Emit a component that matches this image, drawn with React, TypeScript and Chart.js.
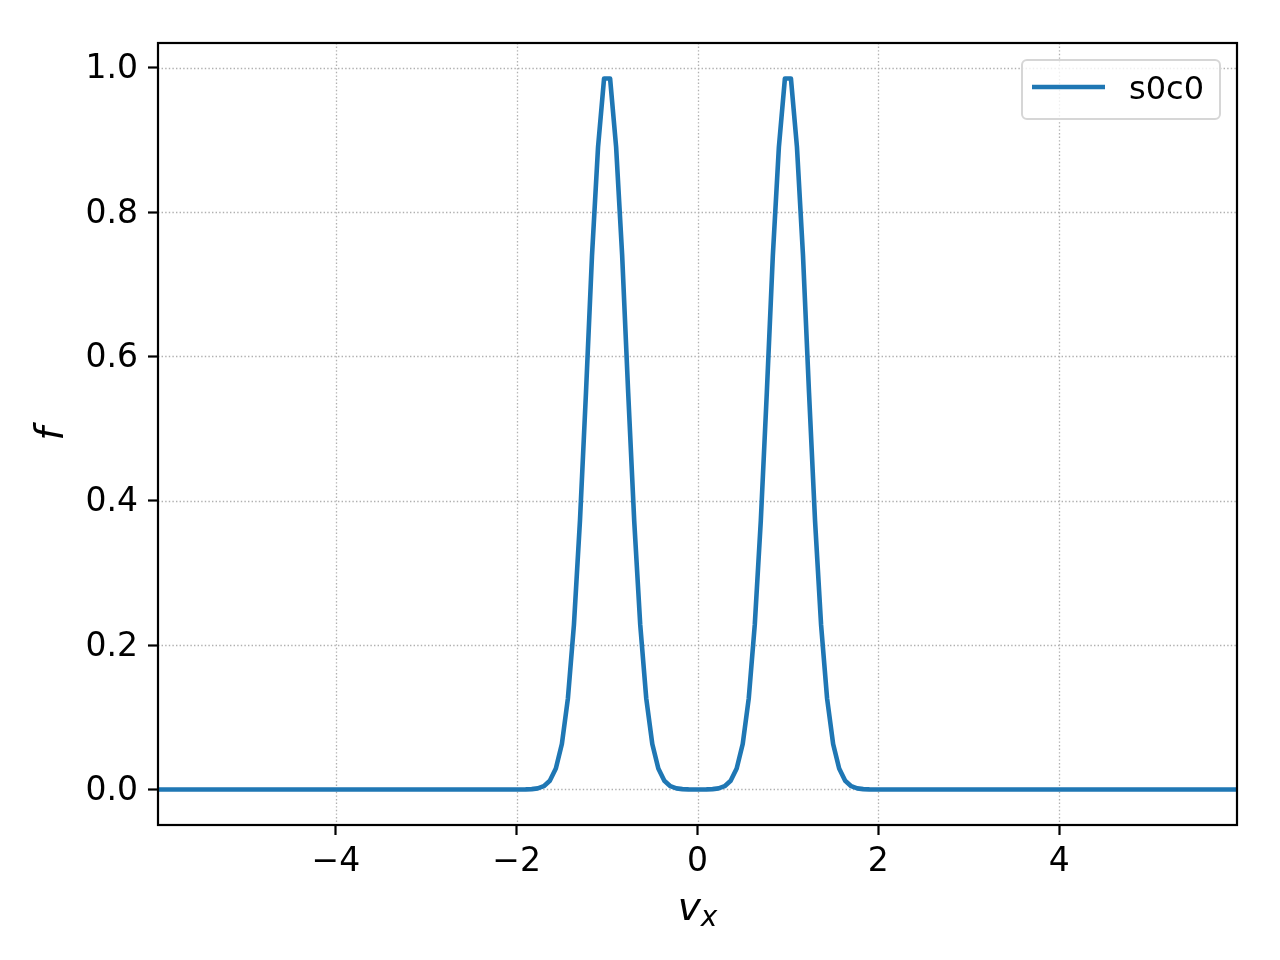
import React, { useEffect, useRef } from "react";
import { Chart, registerables } from "chart.js";

Chart.register(...registerables);

const seriesLabel = "s0c0";
const vx = [
  -5.9667, -1.9667, -1.9, -1.8333, -1.7667, -1.7, -1.6333, -1.5667, -1.5, -1.4333, -1.3667, -1.3,
  -1.2333, -1.1667, -1.1, -1.0333, -0.9667, -0.9, -0.8333, -0.7667, -0.7, -0.6333, -0.5667, -0.5,
  -0.4333, -0.3667, -0.3, -0.2333, -0.1667, -0.1, -0.0333,
  0.0333, 0.1, 0.1667, 0.2333, 0.3, 0.3667, 0.4333, 0.5, 0.5667, 0.6333, 0.7, 0.7667, 0.8333, 0.9,
  0.9667, 1.0333, 1.1, 1.1667, 1.2333, 1.3, 1.3667, 1.4333, 1.5, 1.5667, 1.6333, 1.7, 1.7667, 1.8333,
  1.9, 1.9667, 5.9667,
];
const f = [
  0, 0, 0.0001, 0.0005, 0.0015, 0.0045, 0.012, 0.029, 0.063, 0.126, 0.228, 0.372,
  0.55, 0.74, 0.89, 0.985, 0.985, 0.89, 0.74, 0.55, 0.372, 0.228, 0.126, 0.063,
  0.029, 0.012, 0.0045, 0.0015, 0.0005, 0.0001, 0,
  0, 0.0001, 0.0005, 0.0015, 0.0045, 0.012, 0.029, 0.063, 0.126, 0.228, 0.372, 0.55, 0.74, 0.89,
  0.985, 0.985, 0.89, 0.74, 0.55, 0.372, 0.228, 0.126, 0.063, 0.029, 0.012, 0.0045, 0.0015, 0.0005,
  0.0001, 0, 0,
];
const xTicks = [-4, -2, 0, 2, 4];
const yTicks = [0, 0.2, 0.4, 0.6, 0.8, 1.0];
const xLimits = [-5.9667, 5.9667];
const yLimits = [-0.04925, 1.03425];

const FONT = "'DejaVu Sans', sans-serif";
const LINE_COLOR = "#1f77b4";

const decorPlugin = {
  id: "decor",
  beforeDatasetsDraw(chart: any) {
    const { ctx, chartArea: a, scales } = chart;
    ctx.save();
    ctx.strokeStyle = "#b0b0b0";
    ctx.lineWidth = 1.3;
    ctx.setLineDash([1.4, 2.2]);
    for (const t of xTicks) {
      const px = Math.round(scales.x.getPixelForValue(t)) + 0.5;
      ctx.beginPath();
      ctx.moveTo(px, a.top);
      ctx.lineTo(px, a.bottom);
      ctx.stroke();
    }
    for (const t of yTicks) {
      const py = Math.round(scales.y.getPixelForValue(t)) + 0.5;
      ctx.beginPath();
      ctx.moveTo(a.left, py);
      ctx.lineTo(a.right, py);
      ctx.stroke();
    }
    ctx.restore();
  },
  afterDraw(chart: any) {
    const { ctx, chartArea: a } = chart;
    ctx.save();
    // spines
    ctx.strokeStyle = "#000";
    ctx.lineWidth = 2.2;
    ctx.setLineDash([]);
    ctx.strokeRect(a.left, a.top, a.right - a.left, a.bottom - a.top);

    // legend
    const bx = 1022, by = 60, bw = 198, bh = 59, r = 5;
    ctx.beginPath();
    ctx.moveTo(bx + r, by);
    ctx.lineTo(bx + bw - r, by);
    ctx.arcTo(bx + bw, by, bx + bw, by + r, r);
    ctx.lineTo(bx + bw, by + bh - r);
    ctx.arcTo(bx + bw, by + bh, bx + bw - r, by + bh, r);
    ctx.lineTo(bx + r, by + bh);
    ctx.arcTo(bx, by + bh, bx, by + bh - r, r);
    ctx.lineTo(bx, by + r);
    ctx.arcTo(bx, by, bx + r, by, r);
    ctx.closePath();
    ctx.fillStyle = "rgba(255,255,255,0.8)";
    ctx.fill();
    ctx.strokeStyle = "#d6d6d6";
    ctx.lineWidth = 2;
    ctx.stroke();
    ctx.strokeStyle = LINE_COLOR;
    ctx.lineWidth = 4.6;
    ctx.beginPath();
    ctx.moveTo(1032, 87);
    ctx.lineTo(1105, 87);
    ctx.stroke();
    ctx.fillStyle = "#000";
    ctx.font = `32px ${FONT}`;
    ctx.textAlign = "left";
    ctx.textBaseline = "alphabetic";
    ctx.fillText(seriesLabel, 1129, 99);

    // y axis title (italic f)
    ctx.save();
    ctx.translate(63, 434);
    ctx.rotate(-Math.PI / 2);
    ctx.font = `italic 39px ${FONT}`;
    ctx.textAlign = "center";
    ctx.fillText("f", 0, 0);
    ctx.restore();

    // x axis title v_x
    ctx.font = `italic 39px ${FONT}`;
    const wv = ctx.measureText("v").width;
    ctx.font = `italic 28px ${FONT}`;
    const wx = ctx.measureText("x").width;
    const start = (a.left + a.right) / 2 - (wv + wx) / 2;
    ctx.textAlign = "left";
    ctx.font = `italic 39px ${FONT}`;
    ctx.fillText("v", start, 920);
    ctx.font = `italic 28px ${FONT}`;
    ctx.fillText("x", start + wv, 926);
    ctx.restore();
  },
};

export default function App() {
  const canvasRef = useRef<HTMLCanvasElement | null>(null);

  useEffect(() => {
    document.body.style.margin = "0";
    const canvas = canvasRef.current;
    if (!canvas) return;
    const points = vx.map((x, i) => ({ x, y: f[i] }));
    const chart = new Chart(canvas, {
      type: "line",
      data: {
        datasets: [
          {
            label: seriesLabel,
            data: points,
            borderColor: LINE_COLOR,
            backgroundColor: LINE_COLOR,
            borderWidth: 4.6,
            pointRadius: 0,
            tension: 0,
            fill: false,
            borderJoinStyle: "round",
            borderCapStyle: "butt",
          },
        ],
      },
      options: {
        animation: false,
        responsive: false,
        devicePixelRatio: 1,
        layout: { padding: { top: 43, right: 43, left: 0, bottom: 0 } },
        plugins: {
          legend: { display: false },
          tooltip: { enabled: false },
          title: { display: false },
        },
        scales: {
          x: {
            type: "linear",
            min: xLimits[0],
            max: xLimits[1],
            afterBuildTicks: (s: any) => {
              s.ticks = xTicks.map((v) => ({ value: v }));
            },
            afterFit: (s: any) => {
              s.height = 135;
            },
            grid: {
              display: true,
              drawOnChartArea: false,
              drawTicks: true,
              tickLength: 10,
              tickColor: "#000",
              tickWidth: 2.2,
            },
            border: { display: false },
            ticks: {
              color: "#000",
              font: { family: FONT, size: 33 },
              padding: 8,
              maxRotation: 0,
              autoSkip: false,
              callback: (v: any) => String(v).replace("-", "\u2212"),
            },
          },
          y: {
            type: "linear",
            min: yLimits[0],
            max: yLimits[1],
            afterBuildTicks: (s: any) => {
              s.ticks = yTicks.map((v) => ({ value: v }));
            },
            afterFit: (s: any) => {
              s.width = 158;
            },
            grid: {
              display: true,
              drawOnChartArea: false,
              drawTicks: true,
              tickLength: 10,
              tickColor: "#000",
              tickWidth: 2.2,
            },
            border: { display: false },
            ticks: {
              color: "#000",
              font: { family: FONT, size: 33 },
              padding: 10,
              labelOffset: 2,
              autoSkip: false,
              callback: (v: any) => Number(v).toFixed(1),
            },
          },
        },
      },
      plugins: [decorPlugin],
    } as any);
    return () => chart.destroy();
  }, []);

  return (
    <div style={{ position: "absolute", left: 0, top: 0, width: 1280, height: 960, background: "#fff" }}>
      <canvas ref={canvasRef} width={1280} height={960} style={{ width: 1280, height: 960 }} />
    </div>
  );
}
